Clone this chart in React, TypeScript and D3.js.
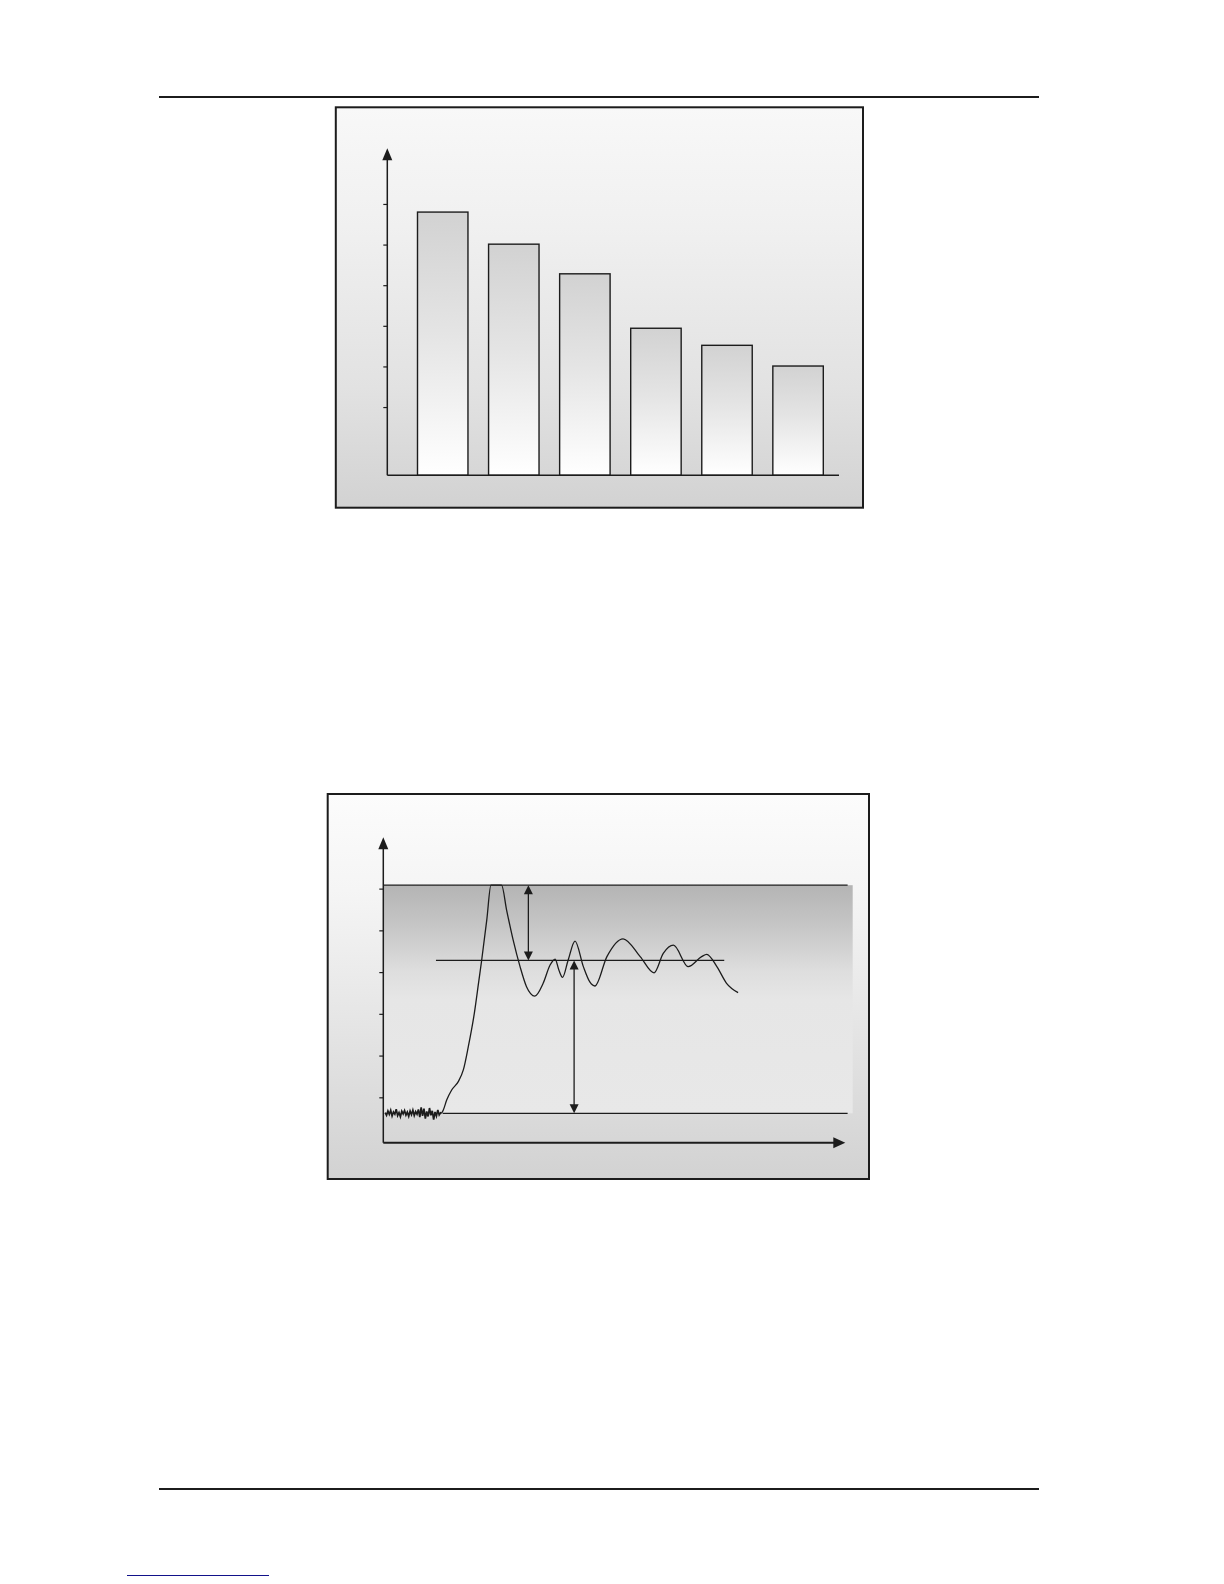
import React, { useEffect, useRef } from 'react';
import * as d3 from 'd3';

// upper figure: six bars on a plain arrow axis
const barCategories = ['1', '2', '3', '4', '5', '6'];
const barValues = [64.8, 56.9, 49.6, 36.2, 32.0, 26.9];
const barTicks = [16.8, 26.8, 36.8, 46.8, 56.8, 66.8];

// lower figure: noisy baseline then overshoot / settling response
const noiseValues = [
  0.3, -0.9, 1.0, -0.5, 1.3, -1.2, 0.6, -0.4, 1.8, -1.0, 0.3, -1.5, 0.9, -0.3, 1.2, -0.8, 0.5, -1.3, 1.0, -0.6, 1.4,
  -1.0, 0.7, -0.4, 1.7, -1.7, 2.6, -1.1, 2.0, -2.3, 0.8, -1.4, 2.3, -0.9, 1.1, -2.8, 0.6, -1.2, 1.5, -0.7, 0.2,
];
const responseTimes = [
  12.64, 12.99, 13.72, 14.8, 16.23, 17.32, 18.4, 19.7, 20.7, 21.3, 22.4, 23.3, 25.6, 26.7, 28.1, 29.6, 31.0, 32.8, 34.6,
  36.1, 37.2, 38.0, 38.8, 40.0, 41.5, 43.3, 44.7, 45.8, 48.4, 51.9, 55.6, 58.6, 60.6, 62.8, 66.0, 68.9, 70.0, 72.2, 74.3,
  76.8,
];
const responseValues = [
  0.1, 1.45, 5.8, 10.2, 13.9, 19.0, 29.2, 43.8, 58.4, 67.2, 84.8, 100, 100, 89.0, 76.0, 64.3, 55.5, 51.4, 57.0, 65.0,
  67.6, 62.8, 59.6, 67.1, 75.5, 64.3, 57.6, 55.8, 68.7, 76.5, 68.7, 61.6, 70.1, 73.7, 64.3, 68.7, 69.7, 64.3, 57.0, 52.9,
];
const responseTicks = [7, 25.3, 43.6, 61.9, 80.2, 98.5];
const peakLevel = 100;
const steadyLevel = 67;
const baseLevel = 0;

const INK = '#1c1c1c';

// tip at (x, y), pointing along (dx, dy)
const arrowHead = (x: number, y: number, dx: number, dy: number, len: number, half: number) => {
  const bx = x - dx * len;
  const by = y - dy * len;
  const px = -dy;
  const py = dx;
  return `M${x},${y}L${bx + px * half},${by + py * half}L${bx - px * half},${by - py * half}Z`;
};

const App = () => {
  const ref = useRef<SVGSVGElement>(null);

  function drawChart() {
    const svg = d3.select(ref.current);
    svg.selectAll('*').remove();

    const defs = svg.append('defs');
    const gradient = (id: string, stops: [number, string][]) => {
      const g = defs.append('linearGradient').attr('id', id).attr('x1', 0).attr('y1', 0).attr('x2', 0).attr('y2', 1);
      stops.forEach(([o, c]) => g.append('stop').attr('offset', o).attr('stop-color', c));
    };
    gradient('bg1', [
      [0, '#f8f8f8'],
      [0.3, '#f0f0f0'],
      [0.7, '#e2e2e2'],
      [1, '#d2d2d2'],
    ]);
    gradient('bar', [
      [0, '#d2d2d2'],
      [0.45, '#e4e4e4'],
      [1, '#ffffff'],
    ]);
    gradient('bg2', [
      [0, '#fcfcfc'],
      [0.25, '#f5f5f5'],
      [0.6, '#e5e5e5'],
      [1, '#d2d2d2'],
    ]);
    gradient('band', [
      [0, '#b4b4b4'],
      [0.18, '#c6c6c6'],
      [0.38, '#dedede'],
      [0.5, '#e6e6e6'],
      [1, '#e8e8e8'],
    ]);

    // page rules
    const rule = (y: number) =>
      svg.append('line').attr('x1', 159).attr('x2', 1039).attr('y1', y).attr('y2', y).attr('stroke', INK).attr('stroke-width', 2.2);
    rule(97);
    rule(1489);
    svg.append('line').attr('x1', 127).attr('x2', 269).attr('y1', 1575.5).attr('y2', 1575.5).attr('stroke', '#12128a').attr('stroke-width', 1);

    // ---------- bar figure ----------
    svg.append('rect').attr('x', 335.8).attr('y', 107.3).attr('width', 527.2).attr('height', 400.4)
      .attr('fill', 'url(#bg1)').attr('stroke', INK).attr('stroke-width', 2);

    const y1 = d3.scaleLinear().domain([0, 80.5]).range([475.3, 148.3]);
    const x1 = d3.scaleBand().domain(barCategories).range([407.2, 833.6]).paddingInner(0.29).paddingOuter(0.145);
    const axisX1 = 387.3;

    svg.append('g').selectAll('rect').data(barValues).enter().append('rect')
      .attr('x', (_, i) => x1(barCategories[i]) as number)
      .attr('y', (d) => y1(d))
      .attr('width', x1.bandwidth())
      .attr('height', (d) => y1(0) - y1(d))
      .attr('fill', 'url(#bar)')
      .attr('stroke', INK)
      .attr('stroke-width', 1.4);

    const yAxis1 = svg.append('g').attr('transform', `translate(${axisX1},0)`)
      .call(d3.axisLeft(y1).tickValues(barTicks).tickSize(4).tickFormat(() => ''));
    yAxis1.select('.domain').remove();
    yAxis1.selectAll('line').attr('stroke', INK).attr('stroke-width', 1.2);

    svg.append('line').attr('x1', axisX1).attr('x2', axisX1).attr('y1', y1(0)).attr('y2', y1(80.5) + 10)
      .attr('stroke', INK).attr('stroke-width', 1.5);
    svg.append('path').attr('d', arrowHead(axisX1, y1(80.5), 0, -1, 12, 5)).attr('fill', INK);
    svg.append('line').attr('x1', axisX1).attr('x2', 839).attr('y1', y1(0)).attr('y2', y1(0))
      .attr('stroke', INK).attr('stroke-width', 1.5);

    // ---------- response figure ----------
    svg.append('rect').attr('x', 327.7).attr('y', 794).attr('width', 541.3).attr('height', 385)
      .attr('fill', 'url(#bg2)').attr('stroke', INK).attr('stroke-width', 2);

    const x2 = d3.scaleLinear().domain([0, 100]).range([383.3, 845.3]);
    const y2 = d3.scaleLinear().domain([-12.9, 121]).range([1142.7, 837.3]);

    svg.append('rect').attr('x', x2(0)).attr('y', y2(peakLevel))
      .attr('width', x2(101.6) - x2(0)).attr('height', y2(baseLevel) - y2(peakLevel))
      .attr('fill', 'url(#band)');

    const hLine = (t0: number, t1: number, v: number) =>
      svg.append('line').attr('x1', x2(t0)).attr('x2', x2(t1)).attr('y1', y2(v)).attr('y2', y2(v))
        .attr('stroke', INK).attr('stroke-width', 1.3);
    hLine(0, 100.5, peakLevel);
    hLine(11.4, 73.8, steadyLevel);
    hLine(12.86, 100.5, baseLevel);

    const noisePts: [number, number][] = noiseValues.map((v, i) => [0.4 + i * 0.3, v]);
    const respPts: [number, number][] = responseTimes.map((t, i) => [t, responseValues[i]]);
    const xy = (d: [number, number]) => [x2(d[0]), y2(d[1])] as [number, number];

    // jagged noisy baseline, drawn heavier
    const noiseLine = d3.line<[number, number]>().x((d) => xy(d)[0]).y((d) => xy(d)[1]);
    svg.append('path').attr('d', noiseLine([...noisePts, respPts[0]]))
      .attr('fill', 'none').attr('stroke', INK).attr('stroke-width', 1.7).attr('stroke-linejoin', 'miter');

    const line = d3.line<[number, number]>().x((d) => xy(d)[0]).y((d) => xy(d)[1]).curve(d3.curveMonotoneX);
    svg.append('path').attr('d', line(respPts))
      .attr('fill', 'none').attr('stroke', INK).attr('stroke-width', 1.3);

    const doubleArrow = (t: number, vTop: number, vBot: number) => {
      const x = x2(t);
      svg.append('line').attr('x1', x).attr('x2', x).attr('y1', y2(vTop) + 6).attr('y2', y2(vBot) - 6)
        .attr('stroke', INK).attr('stroke-width', 1.3);
      svg.append('path').attr('d', arrowHead(x, y2(vTop), 0, -1, 9, 4.5)).attr('fill', INK);
      svg.append('path').attr('d', arrowHead(x, y2(vBot), 0, 1, 9, 4.5)).attr('fill', INK);
    };
    doubleArrow(31.4, peakLevel, steadyLevel);
    doubleArrow(41.3, steadyLevel, baseLevel);

    const yAxis2 = svg.append('g').attr('transform', `translate(${x2(0)},0)`)
      .call(d3.axisLeft(y2).tickValues(responseTicks).tickSize(4).tickFormat(() => ''));
    yAxis2.select('.domain').remove();
    yAxis2.selectAll('line').attr('stroke', INK).attr('stroke-width', 1.2);

    svg.append('line').attr('x1', x2(0)).attr('x2', x2(0)).attr('y1', y2(-12.9)).attr('y2', y2(121) + 10)
      .attr('stroke', INK).attr('stroke-width', 1.5);
    svg.append('path').attr('d', arrowHead(x2(0), y2(121), 0, -1, 12, 5)).attr('fill', INK);
    svg.append('line').attr('x1', x2(0)).attr('x2', x2(100) - 10).attr('y1', y2(-12.9)).attr('y2', y2(-12.9))
      .attr('stroke', INK).attr('stroke-width', 2);
    svg.append('path').attr('d', arrowHead(x2(100), y2(-12.9), 1, 0, 12, 5.5)).attr('fill', INK);
  }

  useEffect(() => {
    drawChart();
  }, []);

  return (
    <svg
      ref={ref}
      width={1224}
      height={1584}
      style={{ position: 'absolute', left: 0, top: 0, display: 'block', background: '#ffffff' }}
    />
  );
};

export default App;
